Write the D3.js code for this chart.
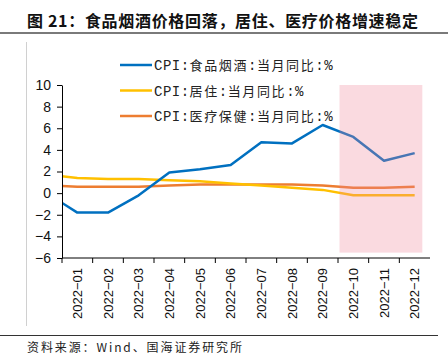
<!DOCTYPE html>
<html><head><meta charset="utf-8">
<script src="https://cdn.jsdelivr.net/npm/d3@7"></script>
<style>body{margin:0;background:#fff}svg{display:block}</style>
</head><body>
<script>
// ---- data ----
const months = ["2022-01","2022-02","2022-03","2022-04","2022-05","2022-06","2022-07","2022-08","2022-09","2022-10","2022-11","2022-12"];
const prevMonth = "2021-12"; // preceding month, drawn clipped at the axis
const foodCPI    = [0.0, -1.8, -1.8, -0.2, 1.9, 2.2, 2.6, 4.7, 4.6, 6.3, 5.2, 3.0, 3.7];
const housingCPI = [1.7, 1.4, 1.3, 1.3, 1.2, 1.1, 0.9, 0.7, 0.5, 0.3, -0.2, -0.2, -0.2];
const medicalCPI = [0.7, 0.6, 0.6, 0.6, 0.7, 0.8, 0.8, 0.8, 0.8, 0.7, 0.5, 0.5, 0.6];
const seriesNames = ["CPI:食品烟酒:当月同比:%","CPI:居住:当月同比:%","CPI:医疗保健:当月同比:%"];
const yTicks = [-6,-4,-2,0,2,4,6,8,10];
const shadeFrom = "2022-10", shadeTo = "2022-12";
const title = "图 21：食品烟酒价格回落，居住、医疗价格增速稳定";
const source = "资料来源：Wind、国海证券研究所";

const W = 448, H = 360;
const svg = d3.select("body").append("svg").attr("width", W).attr("height", H);
const cjk = "'Noto Sans CJK SC','Noto Sans',sans-serif";
const mono = "'Liberation Mono','DejaVu Sans Mono',monospace";

// title & frame
svg.append("text").attr("x", 27).attr("y", 27).attr("font-family", cjk).attr("font-weight", "bold")
  .attr("font-size", 16).attr("fill", "#111").attr("textLength", 391).attr("lengthAdjust", "spacing").text(title);
svg.append("rect").attr("x", 0).attr("y", 32).attr("width", W).attr("height", 2).attr("fill", "#7a7a7a");
svg.append("line").attr("x1", 26.5).attr("x2", 26.5).attr("y1", 42).attr("y2", 326).attr("stroke", "#d0d0d0");
svg.append("line").attr("x1", 0).attr("x2", 438).attr("y1", 335.5).attr("y2", 335.5).attr("stroke", "#333");
svg.append("text").attr("x", 27).attr("y", 352).attr("font-family", cjk).attr("font-size", 12)
  .attr("fill", "#222").attr("textLength", 215).attr("lengthAdjust", "spacing").text(source);

// scales
const x = d3.scaleBand().domain(months).range([62, 430]).padding(0);
const bw = x.bandwidth();
const y = d3.scaleLinear().domain([-6, 10]).range([258, 85]);
const px = i => x(months[0]) + bw * (i - 0.5);

svg.append("defs").append("clipPath").attr("id", "plot")
  .append("rect").attr("x", 62).attr("y", 60).attr("width", 368).attr("height", 198);

const colors = ["#0070c0", "#ffc000", "#ed7d31"];
const data = [foodCPI, housingCPI, medicalCPI];
const line = d3.line().x((d, i) => px(i)).y(d => y(d));
const g = svg.append("g").attr("clip-path", "url(#plot)");
[2, 1, 0].forEach(k => {
  g.append("path").datum(data[k]).attr("d", line).attr("fill", "none")
    .attr("stroke", colors[k]).attr("stroke-width", 2.5).attr("stroke-linejoin", "round");
});

// shaded region (semi-transparent, over the lines)
const sx0 = x(shadeFrom) + bw * 0.05, sx1 = x(shadeTo) + bw * 0.75;
svg.append("rect").attr("x", sx0).attr("width", sx1 - sx0)
  .attr("y", y(10)).attr("height", y(-5.5) - y(10))
  .attr("fill", "rgb(238,132,151)").attr("fill-opacity", 0.3);

// axes
const yAxis = svg.append("g").attr("transform", "translate(62,0)")
  .call(d3.axisLeft(y).tickValues(yTicks).tickSize(5).tickPadding(6).tickSizeOuter(0));
yAxis.selectAll("text").attr("font-family", "'Liberation Sans',Arial,sans-serif").attr("font-size", 14).attr("fill", "#111");
yAxis.select(".domain").attr("stroke", "#000");

const xAxis = svg.append("g").attr("transform", "translate(0,258)");
xAxis.append("line").attr("x1", 62).attr("x2", 430).attr("y1", 0).attr("y2", 0).attr("stroke", "#000");
xAxis.selectAll(".tk").data(months).join("line").attr("class", "tk")
  .attr("x1", d => x(d)).attr("x2", d => x(d)).attr("y1", 0).attr("y2", 5).attr("stroke", "#000");
xAxis.selectAll(".lb").data(months).join("text").attr("class", "lb")
  .attr("transform", d => `translate(${x(d) + bw / 2 + 4.5},10) rotate(-90)`)
  .attr("text-anchor", "end").attr("font-family", "'Liberation Sans',Arial,sans-serif")
  .attr("font-size", 13).attr("fill", "#111").text(d => d.replace("-", "\u2212"));

// legend
const ly = [65, 90.5, 116];
seriesNames.forEach((n, k) => {
  svg.append("line").attr("x1", 120).attr("x2", 152).attr("y1", ly[k]).attr("y2", ly[k])
    .attr("stroke", colors[k]).attr("stroke-width", 2.5);
  const t = svg.append("text").attr("x", 154).attr("y", ly[k] + 5).attr("font-size", 13).attr("fill", "#222");
  const parts = n.match(/[\x00-\x7f]+|[^\x00-\x7f]+/g);
  parts.forEach(p => {
    const ascii = /^[\x00-\x7f]+$/.test(p);
    t.append("tspan").attr("font-family", ascii ? mono : cjk)
      .attr("font-size", ascii ? 14 : 13)
      .attr("letter-spacing", ascii ? 0.5 : 1.6).text(p);
  });
});
</script>
</body></html>
